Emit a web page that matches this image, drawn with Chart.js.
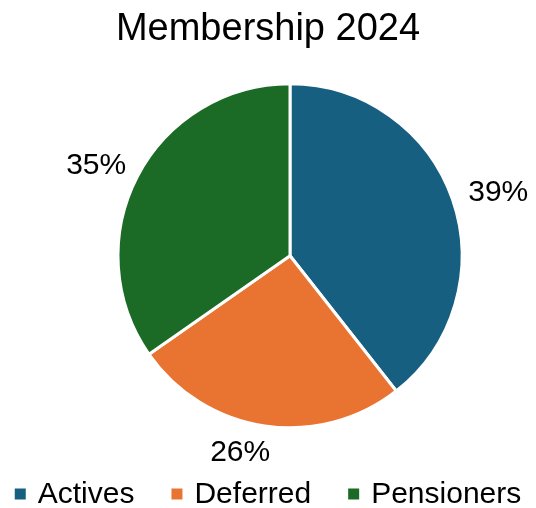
<!DOCTYPE html>
<html>
<head>
<meta charset="utf-8">
<script src="https://cdn.jsdelivr.net/npm/chart.js@4"></script>
<style>
  html, body { margin: 0; padding: 0; background: #fff; overflow: hidden; }
  #wrap { width: 536px; height: 508px; }
</style>
</head>
<body>
<div id="wrap"><canvas id="membershipChart" width="536" height="508"></canvas></div>
<script>
const categories = ['Actives', 'Deferred', 'Pensioners'];
const memberShares = [39.4, 25.9, 34.7];
const sliceColors = ['#165F80', '#E97432', '#1B6A25'];

const FONT = '"Liberation Sans", Arial, sans-serif';

// move the pie right of centre, like the original
const pieShift = {
    id: 'pieShift',
    afterLayout(chart, args, opts) {
        chart.chartArea.left += opts.x;
        chart.chartArea.right += opts.x;
    }
};

// percentage labels just outside each slice
const outsideLabels = {
    id: 'outsideLabels',
    afterDatasetsDraw(chart, args, opts) {
        const ctx = chart.ctx;
        const meta = chart.getDatasetMeta(0);
        const values = chart.data.datasets[0].data;
        const total = values.reduce((a, b) => a + b, 0);
        ctx.save();
        ctx.font = opts.size + 'px ' + FONT;
        ctx.fillStyle = '#000';
        ctx.textAlign = 'center';
        ctx.textBaseline = 'middle';
        meta.data.forEach((arc, i) => {
            const p = arc.getProps(['x', 'y', 'startAngle', 'endAngle', 'outerRadius'], true);
            const mid = (p.startAngle + p.endAngle) / 2 + (opts.turn[i] || 0) * Math.PI / 180;
            const text = Math.round(values[i] / total * 100) + '%';
            const w = ctx.measureText(text).width;
            const h = opts.size * 0.72;
            const r = p.outerRadius + opts.gap;
            const cx = p.x + Math.cos(mid) * (r + w / 2 * Math.abs(Math.cos(mid)));
            const cy = p.y + Math.sin(mid) * (r + h / 2 * Math.abs(Math.sin(mid)));
            ctx.fillText(text, cx, cy + 1);
        });
        ctx.restore();
    }
};

// one-row legend with square markers under the pie
const bottomLegend = {
    id: 'bottomLegend',
    afterDraw(chart, args, opts) {
        const ctx = chart.ctx;
        const labels = chart.data.labels;
        const colors = chart.data.datasets[0].backgroundColor;
        ctx.save();
        ctx.font = opts.size + 'px ' + FONT;
        ctx.textBaseline = 'middle';
        ctx.textAlign = 'left';
        const widths = labels.map(l => opts.box + opts.boxGap + ctx.measureText(l).width);
        const total = widths.reduce((a, b) => a + b, 0) + opts.itemGap * (labels.length - 1);
        let x = (chart.width - total) / 2;
        labels.forEach((l, i) => {
            ctx.fillStyle = colors[i];
            ctx.fillRect(x, opts.y - opts.box / 2, opts.box, opts.box);
            ctx.fillStyle = '#000';
            ctx.fillText(l, x + opts.box + opts.boxGap, opts.y + 1);
            x += widths[i] + opts.itemGap;
        });
        ctx.restore();
    }
};

const ctx = document.getElementById('membershipChart').getContext('2d');
const chart = new Chart(ctx, {
    type: 'pie',
    data: {
        labels: categories,
        datasets: [{
            data: memberShares,
            backgroundColor: sliceColors,
            borderColor: '#ffffff',
            borderWidth: 3,
            radius: 172
        }]
    },
    options: {
        responsive: false,
        animation: false,
        layout: { padding: { top: 0, bottom: 59 } },
        plugins: {
            title: {
                display: true,
                text: 'Membership 2024',
                color: '#000',
                font: { family: FONT, size: 38, weight: 'normal', lineHeight: 1.2 },
                padding: { top: 7, bottom: 10 }
            },
            legend: { display: false },
            tooltip: { enabled: false },
            pieShift: { x: 22 },
            outsideLabels: { size: 30, gap: 20, turn: [0, 6, 0] },
            bottomLegend: { size: 30, box: 11, boxGap: 12, itemGap: 37, y: 494 }
        }
    },
    plugins: [pieShift, outsideLabels, bottomLegend]
});
</script>
</body>
</html>
